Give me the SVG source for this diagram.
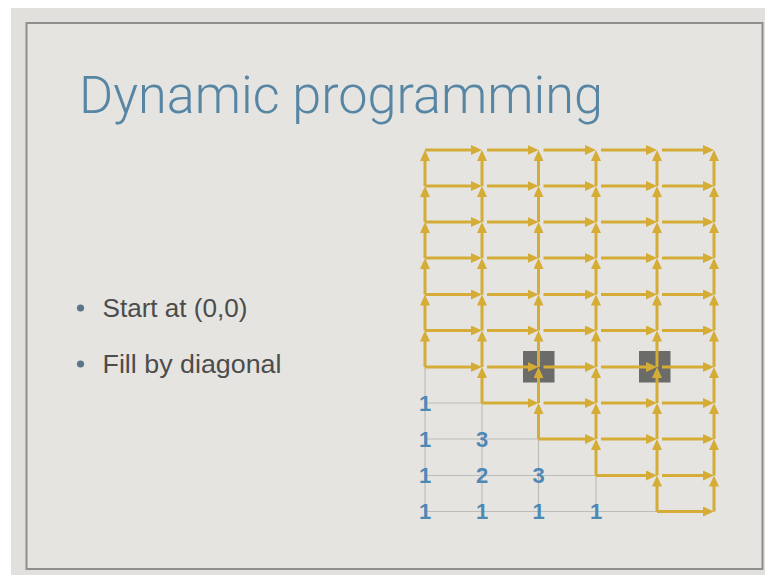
<svg xmlns="http://www.w3.org/2000/svg" width="765" height="575" viewBox="0 0 765 575">
<style>
.y{stroke:#d5ad36;stroke-width:3;fill:none;marker-end:url(#ah)}
.g{stroke:#bcbcba;stroke-width:1.2;fill:none}
.n{font-family:"Liberation Sans",Arial,sans-serif;font-size:22px;font-weight:bold;fill:#4e88b4;text-anchor:middle;dominant-baseline:central}
.b{font-family:"Liberation Sans",Arial,sans-serif;font-size:25.5px;fill:#4c4c4c}
</style>
<defs>
<marker id="ah" viewBox="0 0 11 10" refX="4" refY="5" markerWidth="11" markerHeight="10" markerUnits="userSpaceOnUse" orient="auto">
<path d="M0,0 L11,5 L0,10 z" fill="#d5ad36"/>
</marker>
</defs>
<rect x="0" y="0" width="765" height="575" fill="#ffffff"/>
<rect x="11" y="8" width="754" height="567" fill="#e1e0dd"/>
<rect x="26.5" y="23" width="736" height="546" fill="#e5e4e1" stroke="#8e8e8c" stroke-width="2"/>
<g id="title">
<text x="79" y="113" font-family="Roboto, 'Liberation Sans', Arial, sans-serif" font-weight="300" font-size="51" fill="#5786a4" textLength="524" lengthAdjust="spacingAndGlyphs">Dynamic programming</text>
</g>
<g id="bullets">
<circle cx="80.5" cy="308" r="3.6" fill="#5d7588"/>
<text class="b" x="102.5" y="317" textLength="145" lengthAdjust="spacingAndGlyphs">Start at (0,0)</text>
<circle cx="80.5" cy="364" r="3.6" fill="#5d7588"/>
<text class="b" x="102.5" y="373" textLength="179" lengthAdjust="spacingAndGlyphs">Fill by diagonal</text>
</g>
<g id="grid-done">
<line class="g" x1="425" y1="511.5" x2="657" y2="511.5"/>
<line class="g" x1="425" y1="475.5" x2="596" y2="475.5"/>
<line class="g" x1="425" y1="439" x2="538.5" y2="439"/>
<line class="g" x1="425" y1="403" x2="482" y2="403"/>
<line class="g" x1="425" y1="511.5" x2="425" y2="367"/>
<line class="g" x1="482" y1="511.5" x2="482" y2="403"/>
<line class="g" x1="538.5" y1="511.5" x2="538.5" y2="439"/>
<line class="g" x1="596" y1="511.5" x2="596" y2="475.5"/>
</g>
<g id="box-a"><rect x="523" y="351" width="31.5" height="31.5" fill="#6b6b69"/></g>
<g id="box-b"><rect x="639" y="351" width="31.5" height="31.5" fill="#6b6b69"/></g>
<g id="connectors">
<line class="y" x1="657" y1="511.5" x2="707" y2="511.5"/>
<line class="y" x1="596" y1="475.5" x2="650" y2="475.5"/>
<line class="y" x1="662" y1="475.5" x2="707" y2="475.5"/>
<line class="y" x1="538.5" y1="439" x2="589" y2="439"/>
<line class="y" x1="601" y1="439" x2="650" y2="439"/>
<line class="y" x1="662" y1="439" x2="707" y2="439"/>
<line class="y" x1="482" y1="403" x2="531.5" y2="403"/>
<line class="y" x1="543.5" y1="403" x2="589" y2="403"/>
<line class="y" x1="601" y1="403" x2="650" y2="403"/>
<line class="y" x1="662" y1="403" x2="707" y2="403"/>
<line class="y" x1="425" y1="367" x2="475" y2="367"/>
<line class="y" x1="487" y1="367" x2="531.5" y2="367"/>
<line class="y" x1="543.5" y1="367" x2="589" y2="367"/>
<line class="y" x1="601" y1="367" x2="650" y2="367"/>
<line class="y" x1="662" y1="367" x2="707" y2="367"/>
<line class="y" x1="425" y1="330.5" x2="475" y2="330.5"/>
<line class="y" x1="487" y1="330.5" x2="531.5" y2="330.5"/>
<line class="y" x1="543.5" y1="330.5" x2="589" y2="330.5"/>
<line class="y" x1="601" y1="330.5" x2="650" y2="330.5"/>
<line class="y" x1="662" y1="330.5" x2="707" y2="330.5"/>
<line class="y" x1="425" y1="294.5" x2="475" y2="294.5"/>
<line class="y" x1="487" y1="294.5" x2="531.5" y2="294.5"/>
<line class="y" x1="543.5" y1="294.5" x2="589" y2="294.5"/>
<line class="y" x1="601" y1="294.5" x2="650" y2="294.5"/>
<line class="y" x1="662" y1="294.5" x2="707" y2="294.5"/>
<line class="y" x1="425" y1="258" x2="475" y2="258"/>
<line class="y" x1="487" y1="258" x2="531.5" y2="258"/>
<line class="y" x1="543.5" y1="258" x2="589" y2="258"/>
<line class="y" x1="601" y1="258" x2="650" y2="258"/>
<line class="y" x1="662" y1="258" x2="707" y2="258"/>
<line class="y" x1="425" y1="222" x2="475" y2="222"/>
<line class="y" x1="487" y1="222" x2="531.5" y2="222"/>
<line class="y" x1="543.5" y1="222" x2="589" y2="222"/>
<line class="y" x1="601" y1="222" x2="650" y2="222"/>
<line class="y" x1="662" y1="222" x2="707" y2="222"/>
<line class="y" x1="425" y1="186" x2="475" y2="186"/>
<line class="y" x1="487" y1="186" x2="531.5" y2="186"/>
<line class="y" x1="543.5" y1="186" x2="589" y2="186"/>
<line class="y" x1="601" y1="186" x2="650" y2="186"/>
<line class="y" x1="662" y1="186" x2="707" y2="186"/>
<line class="y" x1="425" y1="150" x2="475" y2="150"/>
<line class="y" x1="487" y1="150" x2="531.5" y2="150"/>
<line class="y" x1="543.5" y1="150" x2="589" y2="150"/>
<line class="y" x1="601" y1="150" x2="650" y2="150"/>
<line class="y" x1="662" y1="150" x2="707" y2="150"/>
<line class="y" x1="425" y1="367" x2="425" y2="337.5"/>
<line class="y" x1="425" y1="330.5" x2="425" y2="301.5"/>
<line class="y" x1="425" y1="294.5" x2="425" y2="265"/>
<line class="y" x1="425" y1="258" x2="425" y2="229"/>
<line class="y" x1="425" y1="222" x2="425" y2="193"/>
<line class="y" x1="425" y1="186" x2="425" y2="157"/>
<line class="y" x1="482" y1="403" x2="482" y2="374"/>
<line class="y" x1="482" y1="367" x2="482" y2="337.5"/>
<line class="y" x1="482" y1="330.5" x2="482" y2="301.5"/>
<line class="y" x1="482" y1="294.5" x2="482" y2="265"/>
<line class="y" x1="482" y1="258" x2="482" y2="229"/>
<line class="y" x1="482" y1="222" x2="482" y2="193"/>
<line class="y" x1="482" y1="186" x2="482" y2="157"/>
<line class="y" x1="538.5" y1="439" x2="538.5" y2="410"/>
<line class="y" x1="538.5" y1="403" x2="538.5" y2="374"/>
<line class="y" x1="538.5" y1="367" x2="538.5" y2="337.5"/>
<line class="y" x1="538.5" y1="330.5" x2="538.5" y2="301.5"/>
<line class="y" x1="538.5" y1="294.5" x2="538.5" y2="265"/>
<line class="y" x1="538.5" y1="258" x2="538.5" y2="229"/>
<line class="y" x1="538.5" y1="222" x2="538.5" y2="193"/>
<line class="y" x1="538.5" y1="186" x2="538.5" y2="157"/>
<line class="y" x1="596" y1="475.5" x2="596" y2="446"/>
<line class="y" x1="596" y1="439" x2="596" y2="410"/>
<line class="y" x1="596" y1="403" x2="596" y2="374"/>
<line class="y" x1="596" y1="367" x2="596" y2="337.5"/>
<line class="y" x1="596" y1="330.5" x2="596" y2="301.5"/>
<line class="y" x1="596" y1="294.5" x2="596" y2="265"/>
<line class="y" x1="596" y1="258" x2="596" y2="229"/>
<line class="y" x1="596" y1="222" x2="596" y2="193"/>
<line class="y" x1="596" y1="186" x2="596" y2="157"/>
<line class="y" x1="657" y1="511.5" x2="657" y2="482.5"/>
<line class="y" x1="657" y1="475.5" x2="657" y2="446"/>
<line class="y" x1="657" y1="439" x2="657" y2="410"/>
<line class="y" x1="657" y1="403" x2="657" y2="374"/>
<line class="y" x1="657" y1="367" x2="657" y2="337.5"/>
<line class="y" x1="657" y1="330.5" x2="657" y2="301.5"/>
<line class="y" x1="657" y1="294.5" x2="657" y2="265"/>
<line class="y" x1="657" y1="258" x2="657" y2="229"/>
<line class="y" x1="657" y1="222" x2="657" y2="193"/>
<line class="y" x1="657" y1="186" x2="657" y2="157"/>
<line class="y" x1="714" y1="511.5" x2="714" y2="482.5"/>
<line class="y" x1="714" y1="475.5" x2="714" y2="446"/>
<line class="y" x1="714" y1="439" x2="714" y2="410"/>
<line class="y" x1="714" y1="403" x2="714" y2="374"/>
<line class="y" x1="714" y1="367" x2="714" y2="337.5"/>
<line class="y" x1="714" y1="330.5" x2="714" y2="301.5"/>
<line class="y" x1="714" y1="294.5" x2="714" y2="265"/>
<line class="y" x1="714" y1="258" x2="714" y2="229"/>
<line class="y" x1="714" y1="222" x2="714" y2="193"/>
<line class="y" x1="714" y1="186" x2="714" y2="157"/>
</g>
<g id="values">
<text class="n" x="425" y="511.5">1</text>
<text class="n" x="482" y="511.5">1</text>
<text class="n" x="538.5" y="511.5">1</text>
<text class="n" x="596" y="511.5">1</text>
<text class="n" x="425" y="475.5">1</text>
<text class="n" x="482" y="475.5">2</text>
<text class="n" x="538.5" y="475.5">3</text>
<text class="n" x="425" y="439">1</text>
<text class="n" x="482" y="439">3</text>
<text class="n" x="425" y="403">1</text>
</g>
</svg>
